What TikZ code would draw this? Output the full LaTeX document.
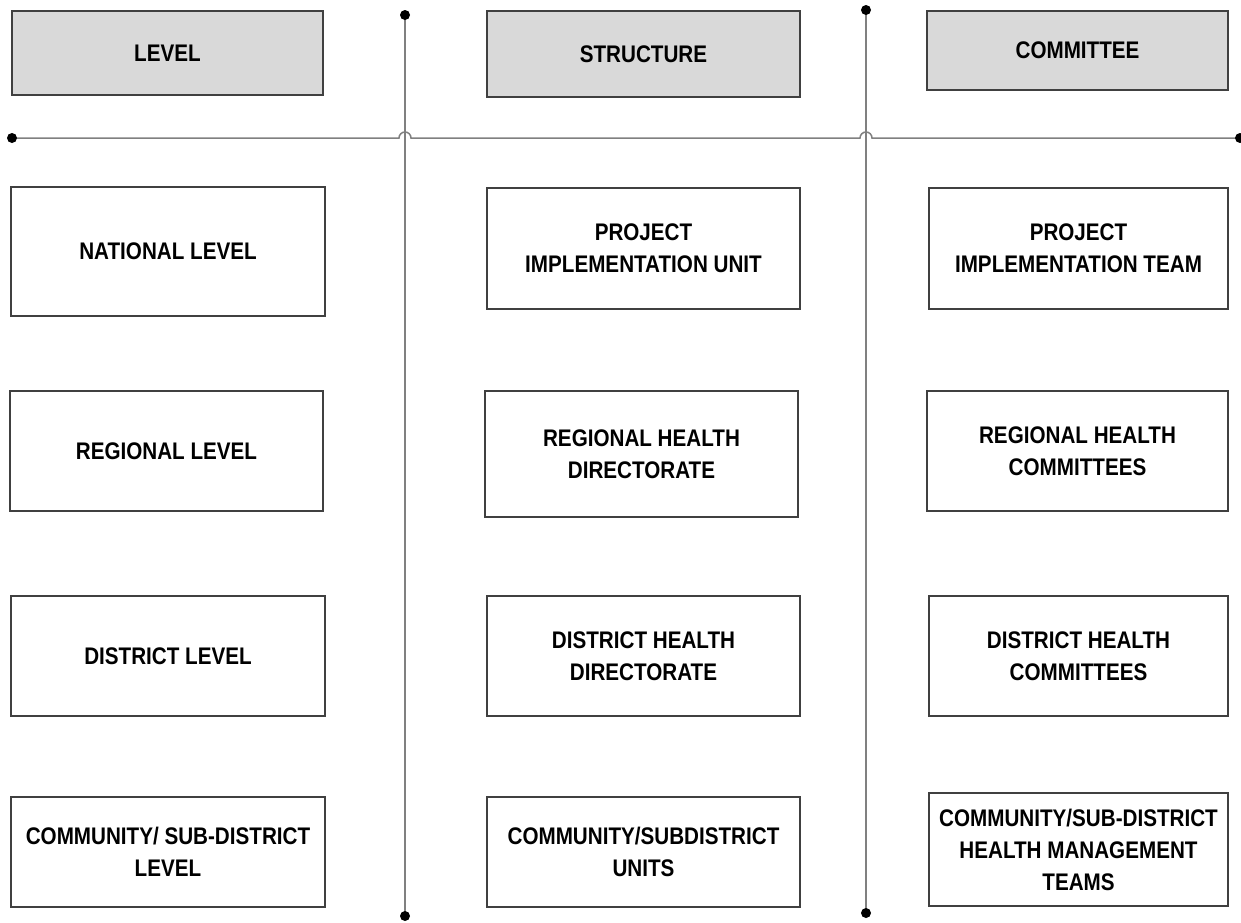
\documentclass[tikz,border=0pt]{standalone}
\usepackage{fontspec}
\setmainfont{Liberation Sans}
\newfontfamily\narrowfont[FakeStretch=0.86]{Liberation Sans}
\begin{document}
\begin{tikzpicture}[x=1pt,y=-1pt,
  box/.style={draw=black!75,line width=1.2pt,fill=white,inner sep=0pt,outer sep=0pt,
    align=center,font=\narrowfont\fontsize{24}{32}\selectfont\bfseries},
  head/.style={box,fill=black!15},
  grid/.style={draw=black!50,line width=1.5pt},
  dot/.style={circle,fill=black,inner sep=0pt,minimum size=10pt}]
\fill[white] (0,0) rectangle (1241,922);
\useasboundingbox (0,0) rectangle (1241,922);
% header
\node[head,minimum width=311pt,minimum height=84pt] (hl) at (167.5,53) {LEVEL};
\node[head,minimum width=313pt,minimum height=86pt] (hs) at (643.5,54) {STRUCTURE};
\node[head,minimum width=301pt,minimum height=79pt] (hc) at (1077.5,50.5) {COMMITTEE};
% row 1
\node[box,minimum width=314pt,minimum height=129pt] (l1) at (168,251.5) {NATIONAL LEVEL};
\node[box,minimum width=313pt,minimum height=121pt] (s1) at (643.5,248.5) {PROJECT\\IMPLEMENTATION UNIT};
\node[box,minimum width=299pt,minimum height=121pt] (c1) at (1078.5,248.5) {PROJECT\\IMPLEMENTATION TEAM};
% row 2
\node[box,minimum width=313pt,minimum height=120pt] (l2) at (166.5,451) {REGIONAL LEVEL};
\node[box,minimum width=313pt,minimum height=126pt] (s2) at (641.5,454) {REGIONAL HEALTH\\DIRECTORATE};
\node[box,minimum width=301pt,minimum height=120pt] (c2) at (1077.5,451) {REGIONAL HEALTH\\COMMITTEES};
% row 3
\node[box,minimum width=314pt,minimum height=120pt] (l3) at (168,656) {DISTRICT LEVEL};
\node[box,minimum width=313pt,minimum height=120pt] (s3) at (643.5,656) {DISTRICT HEALTH\\DIRECTORATE};
\node[box,minimum width=299pt,minimum height=120pt] (c3) at (1078.5,656) {DISTRICT HEALTH\\COMMITTEES};
% row 4
\node[box,minimum width=314pt,minimum height=110pt] (l4) at (168,852) {COMMUNITY/ SUB-DISTRICT\\LEVEL};
\node[box,minimum width=313pt,minimum height=110pt] (s4) at (643.5,852) {COMMUNITY/SUBDISTRICT\\UNITS};
\node[box,minimum width=299pt,minimum height=113pt] (c4) at (1078.5,849.5) {COMMUNITY/SUB-DISTRICT\\HEALTH MANAGEMENT\\TEAMS};
% separators
\coordinate (va1) at (405,15);
\coordinate (vb1) at (405,916);
\coordinate (va2) at (866,10);
\coordinate (vb2) at (866,913);
\coordinate (ha) at (12,138);
\coordinate (hb) at (1240,138);
\draw[grid] (va1) -- (vb1);
\draw[grid] (va2) -- (vb2);
\draw[grid] (ha) -- (399,138) arc[start angle=180,end angle=0,radius=6pt]
  -- (860,138) arc[start angle=180,end angle=0,radius=6pt] -- (hb);
\foreach \p in {va1,vb1,va2,vb2,ha,hb} \node[dot] at (\p) {};
\end{tikzpicture}
\end{document}
